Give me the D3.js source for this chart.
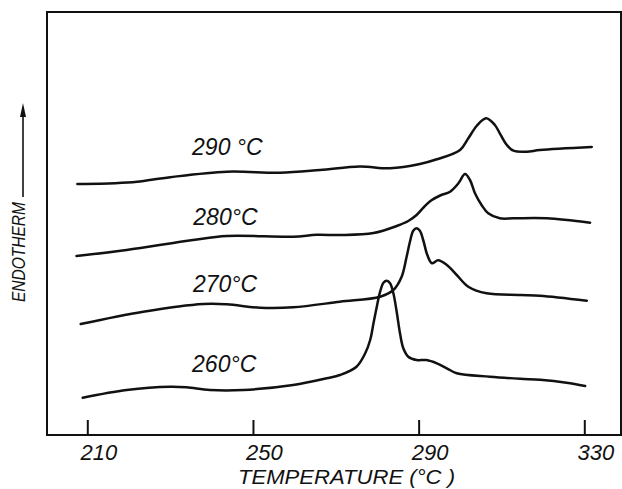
<!DOCTYPE html>
<html>
<head>
<meta charset="utf-8">
<script src="https://cdn.jsdelivr.net/npm/d3@7"></script>
<style>
  html, body { margin: 0; padding: 0; background: #fff; }
  svg { display: block; }
  text { font-family: "Liberation Sans", Arial, sans-serif; font-style: italic; fill: #111; }
</style>
</head>
<body>
<svg id="chart" width="622" height="489"></svg>
<script>
// ---- Data (temperature °C, endotherm signal in arbitrary units) ----
const tickTemps = [210, 250, 290, 330];
const seriesNames = ["290 °C", "280°C", "270°C", "260°C"];

const curve290 = [
  [207.6, 251], [216.7, 251.8], [222.0, 253.2], [230.0, 257.8], [243.7, 263.3],
  [256.5, 262.3], [266.2, 265], [275.8, 268.5], [283.1, 266.7], [290.3, 271],
  [294.4, 275.7], [300.0, 285], [302.0, 296.7], [304.0, 309], [306.3, 316.7],
  [308.4, 310], [309.6, 301.7], [311.3, 290], [312.9, 284.3], [316.1, 283.3],
  [319.3, 285], [331.8, 288]
];
const curve280 = [
  [207.4, 179], [219.5, 185], [235.5, 195], [243.7, 199], [259.7, 198.3],
  [265.4, 200.2], [271.0, 200], [279.1, 202], [284.7, 209], [287.5, 214],
  [289.5, 220], [291.3, 228], [293.0, 234.5], [295.2, 239.5], [297.6, 243.3],
  [299.6, 251.7], [301.2, 261], [302.4, 255], [303.6, 241.7], [305.2, 230],
  [306.8, 221.7], [309.6, 216.7], [312.9, 216.7], [320.9, 216.7], [331.4, 212.3]
];
const curve270 = [
  [208.4, 111], [223.5, 123.3], [238.0, 131], [243.7, 130.7], [251.7, 127.3],
  [259.7, 127.7], [271.0, 133.3], [280.7, 138.3], [283.9, 145], [285.9, 158.3],
  [287.1, 178.3], [287.9, 193.3], [288.7, 204.3], [289.5, 206.7], [290.3, 204.3],
  [291.1, 195], [292.1, 180], [293.2, 171.7], [294.7, 174.7], [296.8, 170],
  [299.2, 160], [302.0, 148.3], [306.4, 141.7], [314.5, 140], [319.3, 139.3],
  [330.6, 134.3]
];
const curve260 = [
  [208.9, 37.3], [219.5, 45], [230.0, 48.3], [234.0, 47.7], [239.6, 45],
  [247.7, 45], [259.7, 50], [267.8, 56.7], [271.0, 60], [275.0, 68.3],
  [277.1, 81.7], [278.3, 95], [279.1, 111.7], [279.9, 128.3], [280.7, 143.3],
  [281.5, 152.3], [282.3, 154.3], [283.1, 151.7], [283.9, 141.7], [284.7, 123.3],
  [285.5, 101.7], [286.3, 86.7], [287.5, 78.3], [289.5, 75], [291.9, 75],
  [294.4, 71.7], [296.8, 66.7], [299.2, 61.7], [307.2, 58.3], [314.5, 56.2],
  [319.3, 55.2], [325.7, 52.3], [330.2, 49]
];
const curves = [curve290, curve280, curve270, curve260];
// label anchors (data units) for the curve annotations
const labelT = [235.3, 235.6, 235.5, 235.3];
const labelV = [280, 210, 143.3, 63];

// ---- Layout ----
const svg = d3.select("#chart");
const frame = { left: 47, right: 621, top: 12, bottom: 435 };

const x = d3.scaleLinear().domain([210, 330]).range([87.3, 584.3]);
const y = d3.scaleLinear().domain([0, 423]).range([frame.bottom, frame.top]);

// frame
svg.append("rect")
  .attr("x", frame.left).attr("y", frame.top)
  .attr("width", frame.right - frame.left).attr("height", frame.bottom - frame.top)
  .attr("fill", "none").attr("stroke", "#111").attr("stroke-width", 2);

// bottom axis with inward ticks
const axis = svg.append("g")
  .attr("transform", `translate(0,${frame.bottom})`)
  .call(d3.axisBottom(x).tickValues(tickTemps).tickSizeInner(-15).tickSizeOuter(0).tickFormat(d3.format("d")));
axis.select(".domain").remove();
axis.selectAll(".tick line").attr("stroke", "#111").attr("stroke-width", 2);
axis.selectAll(".tick text")
  .attr("y", 25).attr("dy", 0).attr("dx", 11)
  .attr("font-size", 22)
  .style("font-family", '"Liberation Sans", Arial, sans-serif')
  .style("font-style", "italic")
  .attr("fill", "#111");

// axis title
svg.append("text")
  .attr("x", 238).attr("y", 484)
  .attr("font-size", 20)
  .attr("textLength", 217).attr("lengthAdjust", "spacingAndGlyphs")
  .text("TEMPERATURE (°C )");

// y label with arrow
svg.append("text")
  .attr("transform", "translate(25,302) rotate(-90)")
  .attr("font-size", 18)
  .attr("textLength", 100).attr("lengthAdjust", "spacingAndGlyphs")
  .text("ENDOTHERM");
svg.append("line")
  .attr("x1", 23).attr("x2", 23).attr("y1", 197).attr("y2", 112)
  .attr("stroke", "#111").attr("stroke-width", 1.6);
svg.append("path")
  .attr("d", "M23,103 L20,117 L26,117 Z")
  .attr("fill", "#111");

// curves
const line = d3.line()
  .x(d => x(d[0]))
  .y(d => y(d[1]))
  .curve(d3.curveCatmullRom.alpha(0.5));

svg.append("g").selectAll("path")
  .data(curves)
  .join("path")
  .attr("d", line)
  .attr("fill", "none")
  .attr("stroke", "#111")
  .attr("stroke-width", 2.5)
  .attr("stroke-linejoin", "round")
  .attr("stroke-linecap", "round");

// curve labels
svg.append("g").selectAll("text")
  .data(seriesNames)
  .join("text")
  .attr("x", (d, i) => x(labelT[i]))
  .attr("y", (d, i) => y(labelV[i]))
  .attr("font-size", 23)
  .text(d => d);
</script>
</body>
</html>
